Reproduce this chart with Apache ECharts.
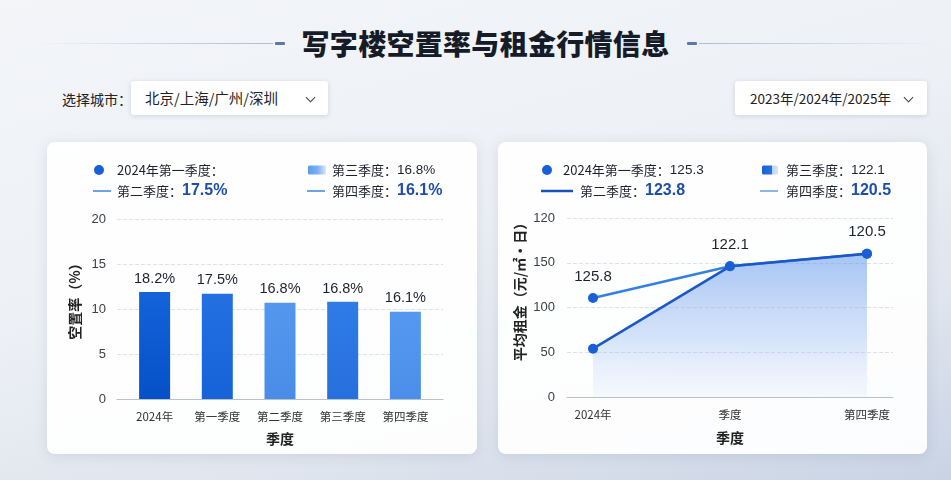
<!DOCTYPE html>
<html><head><meta charset="utf-8">
<script src="https://cdn.jsdelivr.net/npm/echarts@6/dist/echarts.min.js"></script>
<style>
html,body{margin:0;padding:0;width:951px;height:480px;overflow:hidden;}
body{position:relative;font-family:"Noto Sans CJK SC","Noto Sans",sans-serif;
background:linear-gradient(165deg,#f3f5f9 0%,#edf0f5 45%,#dfe5ee 75%,#c9d3e4 100%);}
.title{position:absolute;left:10px;top:22px;width:951px;text-align:center;font-size:28px;font-weight:900;color:#161b28;letter-spacing:0.3px;line-height:42px;}
.ln{position:absolute;top:43px;height:1px;}
.dash{position:absolute;top:42px;height:3px;width:10px;background:#5b77ad;border-radius:1px;}
.lab{position:absolute;left:62px;top:88px;font-size:14px;color:#222;line-height:22px;}
.sel{position:absolute;top:81px;height:34px;background:#fff;border-radius:3px;box-shadow:0 1px 5px rgba(60,80,120,0.18);font-size:14.5px;color:#222;line-height:34px;}
.chev{position:absolute;top:13px;width:6px;height:6px;border-right:1.3px solid #444;border-bottom:1.3px solid #444;transform:rotate(45deg);}
.card{position:absolute;top:142px;height:312px;background:rgba(255,255,255,0.93);border-radius:8px;box-shadow:0 2px 14px rgba(60,80,120,0.13);}
#chart{position:absolute;left:0;top:0;width:951px;height:480px;}
</style></head>
<body>
<div class="ln" style="left:35px;width:238px;background:linear-gradient(90deg,rgba(170,185,210,0),#aebbd2);"></div>
<div class="dash" style="left:275px;"></div>
<div class="dash" style="left:687px;"></div>
<div class="ln" style="left:699px;width:238px;background:linear-gradient(90deg,#aebbd2,rgba(170,185,210,0));"></div>
<div class="title">写字楼空置率与租金行情信息</div>
<div class="lab">选择城市：</div>
<div class="sel" style="left:131px;width:197px;"><span style="position:absolute;left:14px;">北京/上海/广州/深圳</span><div class="chev" style="left:176px;"></div></div>
<div class="sel" style="left:735px;width:192px;font-size:13.5px;"><span style="position:absolute;left:15px;">2023年/2024年/2025年</span><div class="chev" style="left:170px;"></div></div>
<div class="card" style="left:47px;width:430px;"></div>
<div class="card" style="left:498px;width:429px;"></div>
<div id="chart"></div>
<script>
// ---- data ----
const rateCats = ['2024年','第一季度','第二季度','第三季度','第四季度'];
const rateValues = [11.9, 11.7, 10.7, 10.8, 9.7];
const rateLabels = ['18.2%','17.5%','16.8%','16.8%','16.1%'];
const rentCats = ['2024年','季度','第四季度'];
const rentUpper = [110.7, 146, 160];
const rentLower = [54, 146, 160];
const rentLabels = ['125.8','122.1','120.5'];
const rentTickLabels = ['0','50','100','150','120'];
const rateLegend = [['2024年第一季度：',''],['第三季度：','16.8%'],['第二季度：','17.5%'],['第四季度：','16.1%']];
const rentLegend = [['2024年第一季度：','125.3'],['第三季度：','122.1'],['第二季度：','123.8'],['第四季度：','120.5']];

// ---- styles ----
const FONT = '"Liberation Sans","Noto Sans CJK SC",sans-serif';
const CJK = '"Noto Sans CJK SC","Liberation Sans",sans-serif';
const barColors = [['#1463da','#0550c6'],['#2270e2','#1663d8'],['#5497ee','#4a8de8'],['#2f7ce6','#2670de'],['#5598f0','#4b8fea']];
const LG = echarts.graphic.LinearGradient;

function legendGraphics(items, pos, icons){
  const g = [];
  items.forEach((it, i) => {
    const big = i >= 2;
    const text = big ? '{a|' + it[0] + '}{b|' + it[1] + '}' : '{a|' + it[0] + '}{c|' + it[1] + '}';
    g.push({type:'text', x: pos[i][0], y: pos[i][1], z: 10,
      style:{text, verticalAlign:'middle', align:'left',
        rich:{a:{fontSize:13, fontFamily:CJK, fill:'#1e2230'},
              b:{fontSize:16, fontWeight:'bold', fontFamily:FONT, fill:'#1f4ea8'},
              c:{fontSize:13.5, fontFamily:FONT, fill:'#1e2230'}}}});
  });
  return g.concat(icons);
}

const leftIcons = [
  {type:'circle', shape:{cx:99, cy:170, r:5}, style:{fill:'#1560d8'}, z:10},
  {type:'rect', shape:{x:308, y:165.5, width:18, height:9, r:1.5}, style:{fill:new LG(0,0,1,0,[{offset:0,color:'#5b9bf0'},{offset:0.55,color:'#7eb0f4'},{offset:1,color:'#dce8fb'}])}, z:10},
  {type:'line', shape:{x1:93, y1:191, x2:111, y2:191}, style:{stroke:'#6ea3e8', lineWidth:2}, z:10},
  {type:'line', shape:{x1:307, y1:191, x2:325, y2:191}, style:{stroke:'#6ea3e8', lineWidth:2}, z:10}
];
const rightIcons = [
  {type:'circle', shape:{cx:547, cy:170, r:5}, style:{fill:'#1560d8'}, z:10},
  {type:'rect', shape:{x:762, y:165.5, width:16, height:9, r:1.5}, style:{fill:new LG(0,0,1,0,[{offset:0,color:'#1462da'},{offset:0.6,color:'#2a72e0'},{offset:0.61,color:'#b9d2f6'},{offset:1,color:'#d8e6fa'}])}, z:10},
  {type:'line', shape:{x1:541, y1:191, x2:573, y2:191}, style:{stroke:'#1a52bd', lineWidth:2.5}, z:10},
  {type:'line', shape:{x1:760, y1:191, x2:778, y2:191}, style:{stroke:'#8db6ec', lineWidth:2}, z:10}
];

const chart = echarts.init(document.getElementById('chart'), null, {renderer:'canvas'});
const axisLabelStyle = {color:'#3a3f4a', fontFamily:FONT, fontSize:13};
const splitLine = {show:true, lineStyle:{color:'#dde2ea', type:'dashed', width:1}};
const axisLine = {show:true, lineStyle:{color:'#b9c1cc', width:1}};
const xName = {fontFamily:CJK, fontSize:14, fontWeight:'bold', color:'#222'};

chart.setOption({
  backgroundColor:'transparent',
  animation:false,
  graphic: legendGraphics(rateLegend, [[117,170],[332,170],[117,191],[332,191]], leftIcons)
    .concat(legendGraphics(rentLegend, [[563,170],[786,170],[580,191],[786,191]], rightIcons)),
  grid:[
    {left:117, right:508, top:219, bottom:81},
    {left:567, right:58, top:218, bottom:83}
  ],
  xAxis:[
    {type:'value', gridIndex:0, min:-0.6, max:4.6,
     axisLine, axisTick:{show:false}, splitLine:{show:false},
     axisLabel:{customValues:[0,1,2,3,4], formatter:(v)=>rateCats[Math.round(v)], color:'#333', fontFamily:CJK, fontSize:11.5, margin:12},
     name:'季度', nameLocation:'middle', nameGap:33, nameTextStyle:xName},
    {type:'value', gridIndex:1, min:-0.19, max:2.19,
     axisLine, axisTick:{show:false}, splitLine:{show:false},
     axisLabel:{customValues:[0,1,2], formatter:(v)=>rentCats[Math.round(v)], color:'#333', fontFamily:CJK, fontSize:11.5, margin:12},
     name:'季度', nameLocation:'middle', nameGap:34, nameTextStyle:xName}
  ],
  yAxis:[
    {type:'value', gridIndex:0, min:0, max:20, interval:5,
     axisLine:{show:false}, axisTick:{show:false}, splitLine,
     axisLabel:Object.assign({margin:11}, axisLabelStyle),
     name:'空置率（%）', nameLocation:'middle', nameGap:35,
     nameTextStyle:{fontFamily:CJK, fontSize:14, fontWeight:'bold', color:'#222', padding:[0,0,0,22]}},
    {type:'value', gridIndex:1, min:0, max:200, interval:50,
     axisLine:{show:false}, axisTick:{show:false}, splitLine,
     axisLabel:Object.assign({margin:12, formatter:(v)=>rentTickLabels[Math.round(v/50)]}, axisLabelStyle),
     name:'平均租金（元/㎡·日）', nameLocation:'middle', nameGap:40,
     nameTextStyle:{fontFamily:CJK, fontSize:14, fontWeight:'bold', color:'#222', padding:[0,0,0,38]}}
  ],
  series:[
    {type:'bar', xAxisIndex:0, yAxisIndex:0, barWidth:31,
     data: rateValues.map((v, i) => ({value:[i, v], itemStyle:{color:new LG(0,0,0,1,[{offset:0,color:barColors[i][0]},{offset:1,color:barColors[i][1]}])}})),
     label:{show:true, position:'top', distance:6, formatter:(p)=>rateLabels[p.dataIndex], color:'#1e2230', fontFamily:FONT, fontSize:14.5}},
    {type:'line', xAxisIndex:1, yAxisIndex:1, z:3,
     data: rentUpper.map((v, i) => [i, v]),
     symbol:'circle', symbolSize:10,
     lineStyle:{color:'#3480e0', width:2.5},
     itemStyle:{color:'#1a5fd6'},
     label:{show:true, position:'top', distance:9, formatter:(p)=>rentLabels[p.dataIndex], color:'#1e2230', fontFamily:FONT, fontSize:15}},
    {type:'line', xAxisIndex:1, yAxisIndex:1, z:4,
     data: rentLower.map((v, i) => [i, v]),
     symbol:'circle', symbolSize:10,
     lineStyle:{color:'#1a57c9', width:2.5},
     itemStyle:{color:'#1a5fd6'},
     areaStyle:{color:new LG(0,0,0,1,[{offset:0,color:'rgba(92,148,236,0.78)'},{offset:0.6,color:'rgba(140,180,242,0.5)'},{offset:1,color:'rgba(200,220,250,0.2)'}])},
     label:{show:false}}
  ]
});
</script>
</body></html>
